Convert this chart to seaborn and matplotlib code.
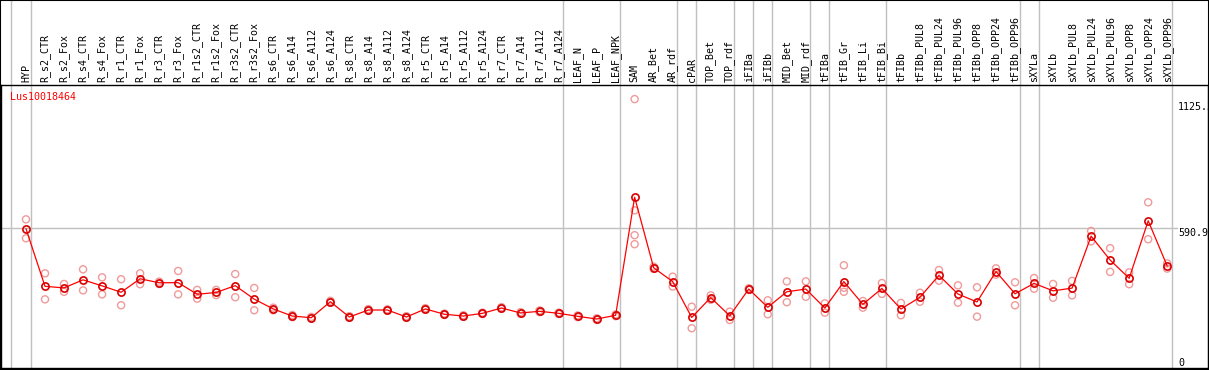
import pandas as pd
import matplotlib
matplotlib.use("Agg")
import matplotlib.pyplot as plt
import matplotlib.transforms as mtransforms
from matplotlib.patches import Rectangle
import seaborn as sns

# Data
gene = "Lus10018464"

samples = [
    "HYP", "R_s2_CTR", "R_s2_Fox", "R_s4_CTR", "R_s4_Fox", "R_r1_CTR", "R_r1_Fox",
    "R_r3_CTR", "R_r3_Fox", "R_r1s2_CTR", "R_r1s2_Fox", "R_r3s2_CTR", "R_r3s2_Fox",
    "R_s6_CTR", "R_s6_A14", "R_s6_A112", "R_s6_A124", "R_s8_CTR", "R_s8_A14",
    "R_s8_A112", "R_s8_A124", "R_r5_CTR", "R_r5_A14", "R_r5_A112", "R_r5_A124",
    "R_r7_CTR", "R_r7_A14", "R_r7_A112", "R_r7_A124", "LEAF_N", "LEAF_P", "LEAF_NPK",
    "SAM", "AR_Bet", "AR_rdf", "cPAR", "TOP_Bet", "TOP_rdf", "iFIBa", "iFIBb",
    "MID_Bet", "MID_rdf", "tFIBa", "tFIB_Gr", "tFIB_Li", "tFIB_Bi", "tFIBb",
    "tFIBb_PUL8", "tFIBb_PUL24", "tFIBb_PUL96", "tFIBb_OPP8", "tFIBb_OPP24",
    "tFIBb_OPP96", "sXYLa", "sXYLb", "sXYLb_PUL8", "sXYLb_PUL24", "sXYLb_PUL96",
    "sXYLb_OPP8", "sXYLb_OPP24", "sXYLb_OPP96",
]

replicates = [
    [628, 548], [400, 290], [355, 322], [417, 328], [383, 311], [375, 265], [400, 354],
    [365, 355], [410, 311], [330, 293], [330, 308], [397, 299], [338, 244],
    [255, 244], [224, 215], [216, 209], [284, 276], [219, 212], [249, 241],
    [248, 242], [219, 212], [253, 246], [230, 224], [223, 216], [234, 228],
    [257, 250], [236, 229], [243, 236], [234, 228], [222, 215], [210, 204], [226, 219],
    [1136, 666, 561, 523], [428, 419], [386, 344], [259, 168], [307, 288], [238, 203],
    [337, 330], [286, 227],
    [366, 278], [366, 301], [273, 234], [434, 339, 322], [283, 255], [359, 313],
    [275, 223],
    [318, 280], [414, 369], [349, 276], [341, 217], [421, 394], [362, 265],
    [380, 335], [355, 297], [368, 307], [579, 535], [506, 406], [404, 354],
    [700, 544], [442, 420],
]

group_ends = [-1, 0, 28, 31, 34, 35, 37, 38, 39, 41, 42, 45, 52, 53, 60]
y_marks = [0, 590.9, 1125.3]

# Long form table for seaborn
rows = []
for i, (name, vals) in enumerate(zip(samples, replicates)):
    for v in vals:
        rows.append({"pos": i, "sample": name, "value": v})
df = pd.DataFrame(rows)

mono = "DejaVu Sans Mono"
W, H = 1209, 370
fig = plt.figure(figsize=(W / 100, H / 100), dpi=100)
ax = fig.add_axes([1 / W, 2 / H, 1207 / W, 283 / H])

step = 19.02
x0 = -25 / step
ax.set_xlim(x0, x0 + 1207 / step)
ax.set_ylim(0, 283 / 0.2367)

grey = "#c0c0c0"
for g in group_ends:
    ax.axvline(g + 4.5 / step, ymin=0, ymax=1 + 85 / 283, color=grey, lw=1,
               clip_on=False, zorder=0.5)
ax.axhline(590.9, xmin=0, xmax=0.974, color=grey, lw=1, zorder=0.5)

sns.scatterplot(data=df, x="pos", y="value", ax=ax, marker="o", s=26,
                facecolor="none", edgecolor="#f09a9a", linewidth=1.0,
                legend=False, zorder=2)
sns.lineplot(data=df, x="pos", y="value", ax=ax, estimator="mean", errorbar=None,
             color="#ff0000", lw=0.9, marker="o", markersize=5.2,
             markerfacecolor="none", markeredgecolor="#d80000",
             markeredgewidth=1.2, legend=False, zorder=3)

ax.xaxis.tick_top()
ax.set_xticks(range(len(samples)))
ax.set_xticklabels(samples, rotation=90, fontsize=7.2, family=mono)
ax.tick_params(axis="x", length=0, pad=2)
ax.set_yticks([])
ax.set_xlabel("")
ax.set_ylabel("")
for sp in ax.spines.values():
    sp.set_color("black")
    sp.set_linewidth(1)

trans = mtransforms.blended_transform_factory(ax.transAxes, ax.transData)
for v in y_marks:
    label = "0" if v == 0 else f"{v:.1f}"
    ax.text(0.9751, v, label, transform=trans, ha="left",
            va="bottom" if v == 0 else "top", fontsize=7.2, family=mono,
            color="black", clip_on=True)

ax.text(0.0075, 0.956, gene, transform=ax.transAxes, ha="left", va="center",
        fontsize=7.2, family=mono, color="#ff0000")

fig.patches.append(Rectangle((0, 0), 1, 1, transform=fig.transFigure, fill=False,
                             ec="black", lw=1.5))

fig.savefig("out.png", dpi=100)
